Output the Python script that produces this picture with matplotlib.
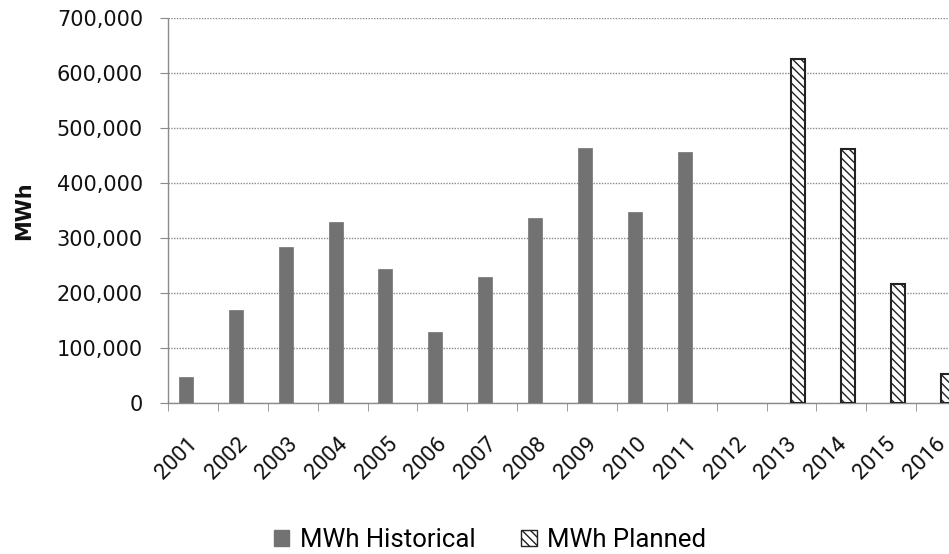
import numpy as np
import matplotlib
matplotlib.use("Agg")
import matplotlib.pyplot as plt
from matplotlib.ticker import FuncFormatter, MultipleLocator
from matplotlib.patches import Patch
import matplotlib.transforms as mtransforms

years = ["2001", "2002", "2003", "2004", "2005", "2006", "2007", "2008",
         "2009", "2010", "2011", "2012", "2013", "2014", "2015", "2016"]
historical = [47000, 169000, 284000, 329000, 243000, 130000, 230000, 336000,
              463000, 348000, 457000, None, None, None, None, None]
planned = [None, None, None, None, None, None, None, None, None, None, None,
           None, 625000, 461000, 216000, 53000]
series_names = ["MWh Historical", "MWh Planned"]

hist_vals = np.array([np.nan if v is None else v for v in historical], dtype=float)
plan_vals = np.array([np.nan if v is None else v for v in planned], dtype=float)

W, H = 949, 554
fig = plt.figure(figsize=(W / 100, H / 100), dpi=100)
left, right, bottom, top = 168, 966, 403, 18
ax = fig.add_axes([left / W, 1 - bottom / H, (right - left) / W, (bottom - top) / H])

x = np.arange(len(years))
bw = 0.28
hist_color = "#727272"
hm = ~np.isnan(hist_vals)
pm = ~np.isnan(plan_vals)
ax.bar(x[hm] - bw / 2, hist_vals[hm], width=bw, color=hist_color, edgecolor=hist_color,
       linewidth=0.5, zorder=3)
plt.rcParams['hatch.linewidth'] = 1.0
ax.bar(x[pm] + bw / 2, plan_vals[pm], width=bw, facecolor="white", edgecolor="#222222",
       hatch="\\\\\\\\", linewidth=1.5, zorder=3)

ax.set_xlim(-0.5, len(years) - 0.5)
ax.set_ylim(0, 700000)
ax.yaxis.set_major_locator(MultipleLocator(100000))
ax.yaxis.set_major_formatter(FuncFormatter(lambda v, p: f"{int(v):,}"))
ax.grid(axis="y", color="#8a8a8a", linestyle=(0, (1, 1)), linewidth=1.0, zorder=0)

for s in ["top", "right"]:
    ax.spines[s].set_visible(False)
for s in ["left", "bottom"]:
    ax.spines[s].set_color("#8a8a8a")
    ax.spines[s].set_linestyle((0, (1, 1)))
    ax.spines[s].set_linewidth(1.0)

ax.tick_params(axis="y", length=6, color="#8a8a8a", pad=12, labelsize=15,
               labelcolor="#111111")
for lab in ax.get_yticklabels():
    lab.set_family("DejaVu Sans")

ax.set_xticks(x)
ax.set_xticklabels(years, rotation=45, ha="right", va="top",
                   fontsize=16, family=["Roboto", "DejaVu Sans"], color="#111111")
ax.set_xticks(np.arange(-0.5, len(years), 1.0), minor=True)
ax.tick_params(axis="x", which="major", length=0, pad=22)
ax.tick_params(axis="x", which="minor", length=6, color="#8a8a8a", direction="out")
offset = mtransforms.ScaledTranslation(9 / 100, 0, fig.dpi_scale_trans)
for lab in ax.get_xticklabels():
    lab.set_transform(lab.get_transform() + offset)

fig.text(24 / W, 1 - 211 / H, "MWh", rotation=90, ha="center", va="center",
         fontsize=15, fontweight="bold", family="DejaVu Sans", color="#111111")

handles = [Patch(facecolor=hist_color, edgecolor=hist_color),
           Patch(facecolor="white", edgecolor="#222222", hatch="\\\\\\\\")]
fig.legend(handles, series_names, loc="center", bbox_to_anchor=(490 / W, 1 - 540 / H),
           ncol=2, frameon=False, prop={"family": ["Roboto", "DejaVu Sans"], "size": 18.5},
           handlelength=0.6, handleheight=0.6, handletextpad=0.4, columnspacing=1.8)

fig.savefig("out.png", dpi=100)
